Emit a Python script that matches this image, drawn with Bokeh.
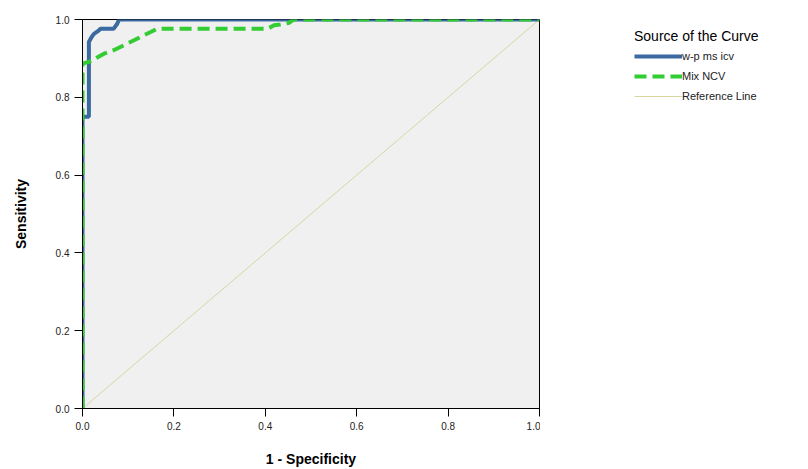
from bokeh.plotting import figure
from bokeh.models import Range1d, Legend, LegendItem, FixedTicker
from bokeh.layouts import row
from bokeh.embed import file_html
from bokeh.resources import INLINE

# ROC curve data
wp_fpr = [0.0, 0.0, 0.014, 0.014, 0.02, 0.025, 0.036, 0.039, 0.068, 0.076, 0.08, 1.0]
wp_tpr = [0.0, 0.75, 0.75, 0.942, 0.955, 0.963, 0.972, 0.976, 0.976, 0.989, 1.0, 1.0]

mix_fpr = [0.0, 0.0, 0.014, 0.047, 0.068, 0.098, 0.127, 0.149, 0.163, 0.405, 0.419, 0.433, 0.451, 0.462, 1.0]
mix_tpr = [0.0, 0.887, 0.891, 0.912, 0.921, 0.938, 0.955, 0.968, 0.976, 0.976, 0.985, 0.987, 0.991, 1.0, 1.0]

ref_x = [0.0, 1.0]
ref_y = [0.0, 1.0]

ticks = [0.0, 0.2, 0.4, 0.6, 0.8, 1.0]
names = ["w-p ms icv", "Mix NCV", "Reference Line"]

BLUE = "#3a6aa0"
GREEN = "#33cc33"
REF = "#d6d6a0"

p = figure(width=540, height=469, output_backend="svg", toolbar_location=None,
           x_range=Range1d(0, 1), y_range=Range1d(0, 1),
           min_border_left=82, min_border_right=1, min_border_top=19, min_border_bottom=58)

p.background_fill_color = "#f0f0f0"
p.border_fill_color = "white"
p.outline_line_color = "black"
p.outline_line_width = 1
p.grid.visible = False

for ax in (p.xaxis[0], p.yaxis[0]):
    ax.ticker = FixedTicker(ticks=ticks)
    ax.minor_tick_line_color = None
    ax.major_tick_in = 0
    ax.major_tick_out = 8
    ax.axis_line_color = "black"
    ax.major_tick_line_color = "black"
    ax.major_label_text_font = "Liberation Sans"
    ax.major_label_text_font_size = "10px"
    ax.major_label_text_color = "#222222"
    ax.axis_label_text_font = "Liberation Sans"
    ax.axis_label_text_font_style = "bold"
    ax.axis_label_text_font_size = "14px"
    ax.axis_label_text_color = "black"

p.xaxis[0].major_label_overrides = {t: f"{t:.1f}" for t in ticks}
p.yaxis[0].major_label_overrides = {t: f"{t:.1f}" for t in ticks}
p.xaxis.axis_label = "1 - Specificity"
p.yaxis.axis_label = "Sensitivity"
p.xaxis[0].axis_label_standoff = 18
p.yaxis[0].axis_label_standoff = 24

p.line(ref_x, ref_y, line_color=REF, line_width=1)
p.line(wp_fpr, wp_tpr, line_color=BLUE, line_width=4)
p.line(mix_fpr, mix_tpr, line_color=GREEN, line_width=4, line_dash="12 6")

# legend panel: a second, axis-less figure whose frame fills it;
# the same series are drawn there out of view, only to feed the legend
q = figure(width=268, height=469, output_backend="svg", toolbar_location=None,
           x_range=Range1d(10, 11), y_range=Range1d(10, 11),
           min_border_left=0, min_border_right=0, min_border_top=0, min_border_bottom=0)
q.axis.visible = False
q.grid.visible = False
q.outline_line_color = None
q.background_fill_color = "white"
q.border_fill_color = "white"
l_wp = q.line(wp_fpr, wp_tpr, line_color=BLUE, line_width=4)
l_mix = q.line(mix_fpr, mix_tpr, line_color=GREEN, line_width=4, line_dash="12 6")
l_ref = q.line(ref_x, ref_y, line_color=REF, line_width=1)

legend = Legend(items=[LegendItem(label=names[0], renderers=[l_wp]),
                       LegendItem(label=names[1], renderers=[l_mix]),
                       LegendItem(label=names[2], renderers=[l_ref])],
                location=(94, 303))
legend.title = "Source of the Curve"
legend.title_text_font = "Liberation Sans"
legend.title_text_font_size = "14px"
legend.title_text_font_style = "normal"
legend.title_text_color = "black"
legend.label_text_font = "Liberation Sans"
legend.label_text_font_size = "11px"
legend.label_text_color = "#222222"
legend.glyph_width = 48
legend.glyph_height = 18
legend.label_standoff = 0
legend.spacing = 2
legend.padding = 0
legend.margin = 0
legend.border_line_color = None
legend.background_fill_alpha = 0
legend.title_standoff = 3
q.add_layout(legend, "center")

open("out.html", "w").write(file_html(row(p, q), INLINE))
